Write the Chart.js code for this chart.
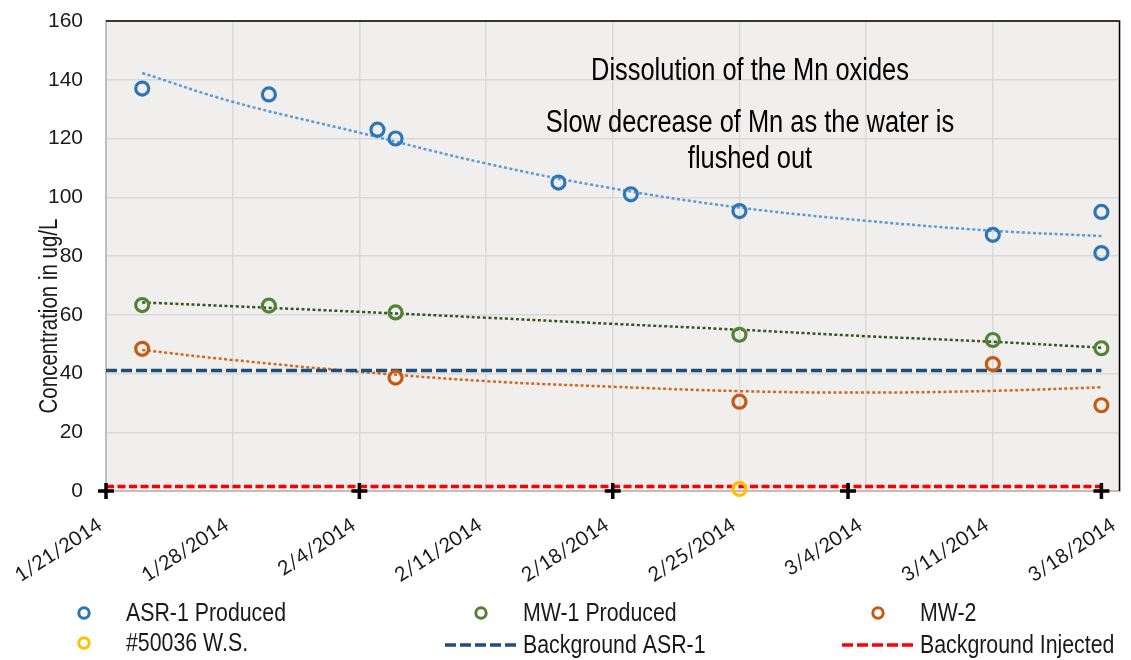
<!DOCTYPE html>
<html>
<head>
<meta charset="utf-8">
<script src="https://cdn.jsdelivr.net/npm/chart.js@4.4.1/dist/chart.umd.min.js"></script>
<style>
  html, body { margin: 0; padding: 0; background: #fff; }
  canvas { display: block; }
</style>
</head>
<body>
<canvas id="grafico" width="1131" height="660"></canvas>
<script>
// Datos
const etiquetasX = ['1/21/2014', '1/28/2014', '2/4/2014', '2/11/2014', '2/18/2014', '2/25/2014', '3/4/2014', '3/11/2014', '3/18/2014'];
const ticksY = [0, 20, 40, 60, 80, 100, 120, 140, 160];

const fechasAsr = ['1/23/2014', '1/30/2014', '2/5/2014', '2/6/2014', '2/15/2014', '2/19/2014', '2/25/2014', '3/11/2014', '3/17/2014', '3/17/2014'];
const valoresAsr = [137, 135, 123, 120, 105, 101, 95.3, 87.2, 95, 81];

const fechasMw1 = ['1/23/2014', '1/30/2014', '2/6/2014', '2/25/2014', '3/11/2014', '3/17/2014'];
const valoresMw1 = [63.3, 63.1, 60.8, 53.2, 51.4, 48.6];

const fechasMw2 = ['1/23/2014', '2/6/2014', '2/25/2014', '3/11/2014', '3/17/2014'];
const valoresMw2 = [48.4, 38.6, 30.4, 43.2, 29.2];

const fechasWs = ['2/25/2014'];
const valoresWs = [0.7];

// Líneas de fondo horizontales
const fechasFondo = ['1/21/2014', '3/17/2014'];
const fondoAsr = [41, 41];
const fondoInyectado = [1.5, 1.5];

// Cruces negras sobre el eje
const fechasCruces = ['1/21/2014', '2/4/2014', '2/18/2014', '3/3/2014', '3/17/2014'];
const valoresCruces = [0, 0, 0, 0, 0];

// Tendencias punteadas
const fechasTendencia = ['1/23/2014', '1/28/2014', '2/4/2014', '2/11/2014', '2/18/2014', '2/25/2014', '3/4/2014', '3/11/2014', '3/17/2014'];
const tendenciaAsr = [142.3, 132.5, 122, 111.5, 103, 96.5, 92, 88.6, 86.8];
const tendenciaMw1 = [64.2, 62.9, 61.0, 59.0, 56.9, 54.9, 52.7, 50.8, 48.8];
const tendenciaMw2 = [48.0, 44.6, 40.6, 37.4, 35.5, 34.0, 33.5, 34.1, 35.3];

const notas = ['Dissolution of the Mn oxides', 'Slow decrease of Mn as the water is', 'flushed out'];
const tituloY = 'Concentration in ug/L';

// Días desde el 21 de enero
function diaDe(fecha) {
    const [m, d, a] = fecha.split('/').map(Number);
    return (Date.UTC(a, m - 1, d) - Date.UTC(2014, 0, 21)) / 86400000;
}

function puntos(fechas, valores) {
    return fechas.map((f, i) => ({ x: diaDe(f), y: valores[i] }));
}

function marcadores(label, fechas, valores, color) {
    return {
        label, data: puntos(fechas, valores), showLine: false,
        pointStyle: 'circle', pointRadius: 6.5, pointHoverRadius: 6.5,
        pointBorderWidth: 3.2, borderColor: color, backgroundColor: 'rgba(0,0,0,0)',
        order: 0, clip: false
    };
}

function tendencia(label, valores, color) {
    return {
        label, data: puntos(fechasTendencia, valores), showLine: true,
        borderColor: color, borderWidth: 2.5, borderDash: [3, 2.5], tension: 0.4,
        pointRadius: 0, order: 2
    };
}

function fondo(label, valores, color, dash) {
    return {
        label, data: puntos(fechasFondo, valores), showLine: true,
        borderColor: color, borderWidth: 3.5, borderDash: dash,
        pointRadius: 0, order: 1, clip: false
    };
}

// Texto tipo "Arial Narrow": Liberation Sans comprimida al 82%
function textoEstrecho(ctx, texto, x, y, size, align, angulo) {
    ctx.save();
    ctx.translate(x, y);
    if (angulo) ctx.rotate(angulo);
    ctx.scale(0.82, 1);
    ctx.font = size + 'px "Liberation Sans", Arial, sans-serif';
    ctx.textAlign = align;
    ctx.fillText(texto, 0, 0);
    ctx.restore();
}

const leyenda = [
    { texto: 'ASR-1 Produced', color: '#2e75b6', tipo: 'circulo', x: 84, y: 613 },
    { texto: 'MW-1 Produced', color: '#548235', tipo: 'circulo', x: 481, y: 613 },
    { texto: 'MW-2', color: '#c55a11', tipo: 'circulo', x: 878, y: 613 },
    { texto: '#50036 W.S.', color: '#ffc000', tipo: 'circulo', x: 84, y: 643 },
    { texto: 'Background ASR-1', color: '#1f4e79', tipo: 'raya', x: 481, y: 645 },
    { texto: 'Background Injected', color: '#ff0000', tipo: 'raya', x: 878, y: 645 }
];

// Fondo del área, marco, notas, título y leyenda
const extras = {
    id: 'extras',
    beforeDraw(chart) {
        const { ctx, chartArea: a } = chart;
        ctx.save();
        ctx.fillStyle = '#f0efee';
        ctx.fillRect(a.left, a.top, a.right - a.left, a.bottom - a.top);
        ctx.restore();
    },
    afterDraw(chart) {
        const { ctx, chartArea: a } = chart;
        ctx.save();
        // marco negro arriba y a la derecha
        ctx.strokeStyle = '#000';
        ctx.lineWidth = 1.5;
        ctx.beginPath();
        ctx.moveTo(a.left, a.top);
        ctx.lineTo(a.right, a.top);
        ctx.lineTo(a.right, a.bottom);
        ctx.stroke();

        // notas
        ctx.fillStyle = '#000';
        ctx.textBaseline = 'alphabetic';
        const yNotas = [80, 132, 168];
        notas.forEach((t, i) => textoEstrecho(ctx, t, 750, yNotas[i], 31, 'center'));

        // título eje Y
        ctx.fillStyle = '#1a1a1a';
        textoEstrecho(ctx, tituloY, 57, 316, 25, 'center', -Math.PI / 2);

        // leyenda
        ctx.textBaseline = 'middle';
        leyenda.forEach(it => {
            ctx.strokeStyle = it.color;
            if (it.tipo === 'circulo') {
                ctx.lineWidth = 3;
                ctx.setLineDash([]);
                ctx.beginPath();
                ctx.arc(it.x, it.y, 5.2, 0, Math.PI * 2);
                ctx.stroke();
            } else {
                ctx.lineWidth = 3.5;
                ctx.setLineDash([11, 4]);
                ctx.beginPath();
                ctx.moveTo(it.x - 36, it.y);
                ctx.lineTo(it.x + 36, it.y);
                ctx.stroke();
                ctx.setLineDash([]);
            }
            ctx.fillStyle = '#1a1a1a';
            textoEstrecho(ctx, it.texto, it.x + 42, it.y + 1, 26, 'left');
        });
        ctx.restore();
    }
};

const ctx = document.getElementById('grafico').getContext('2d');
new Chart(ctx, {
    type: 'scatter',
    data: {
        datasets: [
            marcadores('ASR-1 Produced', fechasAsr, valoresAsr, '#2e75b6'),
            marcadores('MW-1 Produced', fechasMw1, valoresMw1, '#548235'),
            marcadores('MW-2', fechasMw2, valoresMw2, '#c55a11'),
            marcadores('#50036 W.S.', fechasWs, valoresWs, '#ffc000'),
            fondo('Background ASR-1', fondoAsr, '#1f4e79', [11, 4]),
            fondo('Background Injected', fondoInyectado, '#ff0000', [8, 3.5]),
            tendencia('ASR-1 trend', tendenciaAsr, '#5b9bd5'),
            tendencia('MW-1 trend', tendenciaMw1, '#375623'),
            tendencia('MW-2 trend', tendenciaMw2, '#d0691f'),
            {
                label: 'cruces', data: puntos(fechasCruces, valoresCruces), showLine: false,
                pointStyle: 'cross', pointRadius: 8, pointBorderWidth: 3.5,
                borderColor: '#000', order: -1, clip: false
            }
        ]
    },
    options: {
        responsive: false,
        animation: false,
        devicePixelRatio: 1,
        layout: { padding: { top: 21, right: 9, left: 0, bottom: 0 } },
        plugins: {
            legend: { display: false },
            tooltip: { enabled: false }
        },
        scales: {
            x: {
                type: 'linear', min: 0, max: 56,
                afterFit: s => { s.height = 169; s.paddingLeft = 0; s.paddingRight = 0; },
                afterBuildTicks: s => { s.ticks = etiquetasX.map((_, i) => ({ value: i * 7 })); },
                ticks: {
                    autoSkip: false, maxRotation: 33, minRotation: 33, padding: 22, labelOffset: -6,
                    color: '#1a1a1a', font: { family: 'Lato', size: 20 },
                    callback: (v, i) => etiquetasX[i]
                },
                grid: { color: '#d9d9d9', lineWidth: 1.5, drawTicks: false },
                border: { color: '#bfbfbf', width: 2 }
            },
            y: {
                min: 0, max: 160,
                afterFit: s => { s.width = 106; s.paddingTop = 0; s.paddingBottom = 0; },
                afterBuildTicks: s => { s.ticks = ticksY.map(v => ({ value: v })); },
                ticks: {
                    padding: 23, color: '#1a1a1a',
                    font: { family: 'Liberation Sans', size: 21 }
                },
                grid: { color: '#d9d9d9', lineWidth: 1.5, drawTicks: false },
                border: { color: '#bfbfbf', width: 2 }
            }
        }
    },
    plugins: [extras]
});
</script>
</body>
</html>
